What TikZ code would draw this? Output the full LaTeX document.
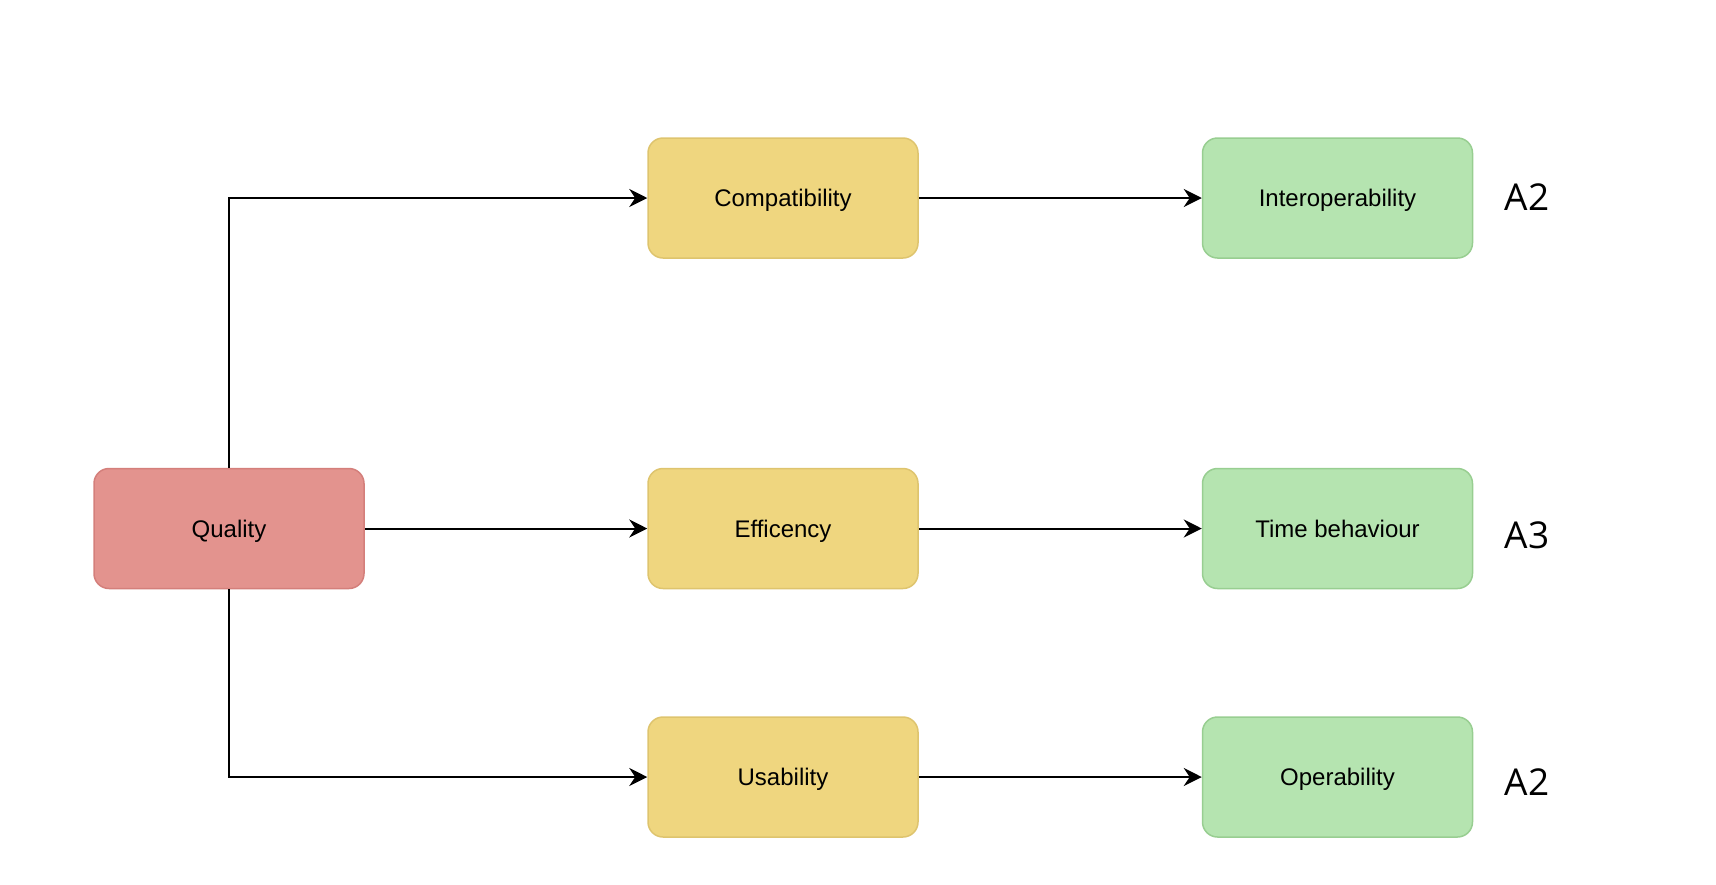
\documentclass[tikz,border=0pt]{standalone}
\usepackage{fontspec}
\setmainfont{Liberation Sans}
\newfontfamily\labelfont{Open Sans}
\usetikzlibrary{arrows.meta}
\definecolor{redfill}{HTML}{E3938E}
\definecolor{redline}{HTML}{D47F7B}
\definecolor{yelfill}{HTML}{EFD67F}
\definecolor{yelline}{HTML}{DEC46E}
\definecolor{grnfill}{HTML}{B5E4B0}
\definecolor{grnline}{HTML}{98CE91}
\tikzset{
  box/.style={rectangle, rounded corners=15pt, minimum width=270pt, minimum height=120pt, line width=1.5pt, inner sep=0pt, text height=17.2pt, text depth=0pt, font=\fontsize{24}{28}\selectfont},
  redbox/.style={box, fill=redfill, draw=redline},
  yelbox/.style={box, fill=yelfill, draw=yelline},
  grnbox/.style={box, fill=grnfill, draw=grnline},
  conn/.style={line width=2pt, -{Stealth[length=18pt, width=18pt, inset=6pt]}},
  grade/.style={font=\labelfont\fontsize{37}{40}\selectfont, inner sep=0pt, text height=26.5pt, text depth=0pt}
}
\begin{document}
\begin{tikzpicture}[x=1pt, y=-1pt]
\useasboundingbox (0,0) rectangle (1716,884);
\node[redbox] (q) at (229,528.5) {Quality};
\node[yelbox] (c) at (783,198) {Compatibility};
\node[yelbox] (e) at (783,528.5) {Efficency};
\node[yelbox] (u) at (783,777) {Usability};
\node[grnbox] (i) at (1337.5,198) {Interoperability};
\node[grnbox] (t) at (1337.5,528.5) {Time behaviour};
\node[grnbox] (o) at (1337.5,777) {Operability};
\node[grade] (a1) at (1527,197) {A2};
\node[grade] (a2) at (1527,535) {A3};
\node[grade] (a3) at (1527,782) {A2};
\draw[conn] (q.north) |- (c.west);
\draw[conn] (q.east) -- (e.west);
\draw[conn] (q.south) |- (u.west);
\draw[conn] (c.east) -- (i.west);
\draw[conn] (e.east) -- (t.west);
\draw[conn] (u.east) -- (o.west);
\end{tikzpicture}
\end{document}
